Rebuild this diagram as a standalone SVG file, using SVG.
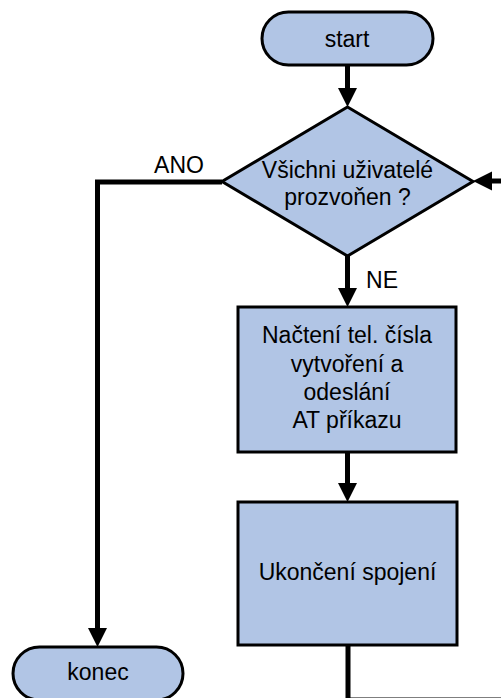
<svg xmlns="http://www.w3.org/2000/svg" width="501" height="698" viewBox="0 0 501 698">
  <defs>
    <style>
      .node { fill: #b1c5e5; stroke: #000; stroke-width: 3; }
      .lbl { font-family: "Liberation Sans", Arial, sans-serif; font-size: 23px; fill: #000; text-anchor: middle; }
      .edge { fill: none; stroke: #000; stroke-width: 5; stroke-linejoin: miter; }
      .head { fill: #000; stroke: none; }
    </style>
  </defs>
  <rect width="501" height="698" fill="#fff"/>
  <g id="connectors">
    <line class="edge" x1="347.5" y1="65" x2="347.5" y2="90"/>
    <polygon class="head" points="338,88 357,88 347.5,107"/>
    <line class="edge" x1="347.5" y1="256" x2="347.5" y2="290"/>
    <polygon class="head" points="338,288 357,288 347.5,307"/>
    <line class="edge" x1="347.5" y1="452" x2="347.5" y2="485"/>
    <polygon class="head" points="338,483 357,483 347.5,502"/>
    <polyline class="edge" points="222,182 97.5,182 97.5,630"/>
    <polygon class="head" points="88,628 107,628 97.5,647"/>
    <polyline class="edge" points="348,645 348,700 510,700"/>
    <line class="edge" x1="505" y1="181" x2="490" y2="181"/>
    <polygon class="head" points="492,171.5 492,190.5 473,181"/>
    <text class="lbl" x="179" y="173" font-size="22">ANO</text>
    <text class="lbl" x="382" y="288" font-size="22">NE</text>
  </g>
  <g id="start">
    <rect class="node" x="262" y="12" width="171" height="53" rx="26.5" ry="26.5"/>
    <text class="lbl" x="347" y="47">start</text>
  </g>
  <g id="decision">
    <polygon class="node" points="347.5,107 473,181.5 347.5,256 222,181.5"/>
    <text class="lbl" x="347.5" y="178">Všichni uživatelé</text>
    <text class="lbl" x="347.5" y="205">prozvoňen ?</text>
  </g>
  <g id="process1">
    <rect class="node" x="238" y="307" width="218" height="145"/>
    <text class="lbl" x="347" y="343">Načtení tel. čísla</text>
    <text class="lbl" x="347" y="372">vytvoření a</text>
    <text class="lbl" x="347" y="400">odeslání</text>
    <text class="lbl" x="347" y="428">AT příkazu</text>
  </g>
  <g id="process2">
    <rect class="node" x="238" y="502" width="219" height="143"/>
    <text class="lbl" x="347.5" y="580">Ukončení spojení</text>
  </g>
  <g id="end">
    <rect class="node" x="13" y="647" width="170" height="53" rx="26.5" ry="26.5"/>
    <text class="lbl" x="98" y="680">konec</text>
  </g>
</svg>
